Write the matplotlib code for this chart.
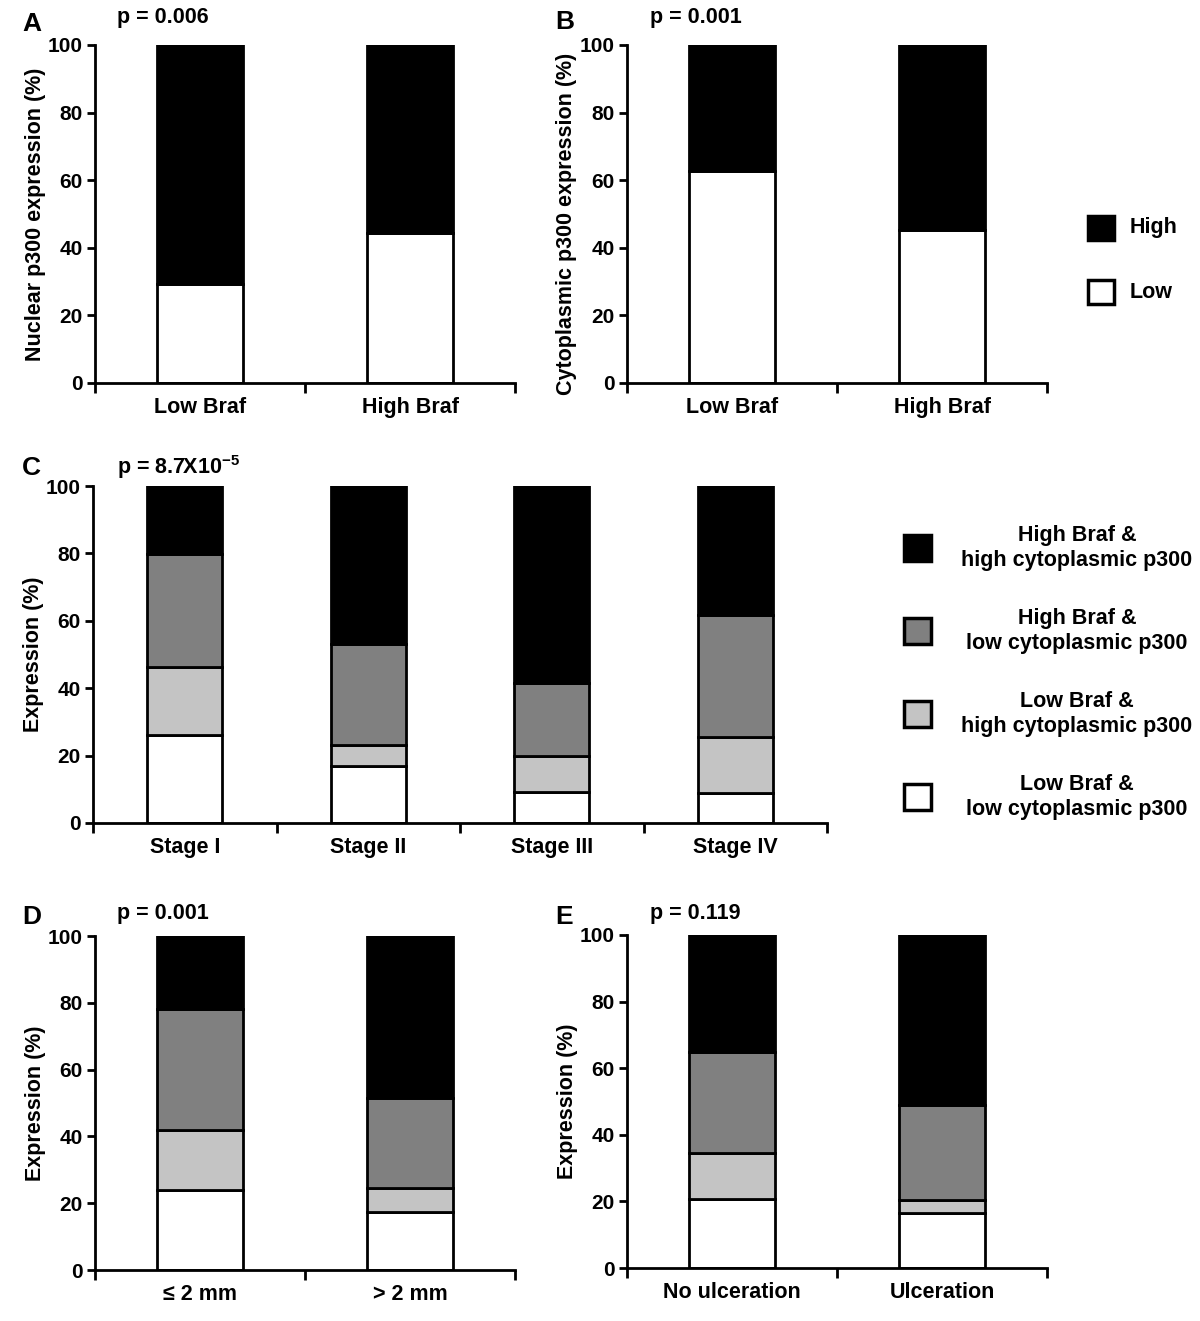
import matplotlib
matplotlib.use("Agg")
import matplotlib.pyplot as plt
from matplotlib.patches import Rectangle
import numpy as np

plt.rcParams['font.family'] = ['Liberation Sans', 'DejaVu Sans']
plt.rcParams['font.weight'] = 'bold'
plt.rcParams['mathtext.fontset'] = 'custom'
plt.rcParams['mathtext.bf'] = 'Liberation Sans:bold'
plt.rcParams['mathtext.rm'] = 'Liberation Sans:bold'
plt.rcParams['mathtext.default'] = 'bf'

# data (percent, stacked bottom -> top)
braf_groups = ["Low Braf", "High Braf"]
nuclear_low = [29.3, 44.4]
nuclear_high = [70.7, 55.6]
cyto_low = [62.7, 45.3]
cyto_high = [37.3, 54.7]

stages = ["Stage I", "Stage II", "Stage III", "Stage IV"]
stage_lowbraf_lowcyto = [26.1, 17.0, 9.3, 9.0]
stage_lowbraf_highcyto = [20.2, 6.0, 10.7, 16.5]
stage_highbraf_lowcyto = [33.4, 30.0, 21.5, 36.2]
stage_highbraf_highcyto = [20.3, 47.0, 58.5, 38.3]

thick_groups = ["\u2264 2 mm", "> 2 mm"]
thick_lowbraf_lowcyto = [24.0, 17.5]
thick_lowbraf_highcyto = [18.0, 7.0]
thick_highbraf_lowcyto = [36.0, 27.0]
thick_highbraf_highcyto = [22.0, 48.5]

ulc_groups = ["No ulceration", "Ulceration"]
ulc_lowbraf_lowcyto = [20.7, 16.5]
ulc_lowbraf_highcyto = [13.8, 4.0]
ulc_highbraf_lowcyto = [30.5, 28.5]
ulc_highbraf_highcyto = [35.0, 51.0]

two_labels = ["High", "Low"]
four_labels = ["High Braf &\nhigh cytoplasmic p300",
               "High Braf &\nlow cytoplasmic p300",
               "Low Braf &\nhigh cytoplasmic p300",
               "Low Braf &\nlow cytoplasmic p300"]
four_colors = ["#000000", "#808080", "#c4c4c4", "#ffffff"]

W, H = 1200, 1321
fig = plt.figure(figsize=(W / 100, H / 100), dpi=100)


def px_axes(left, top, right, bottom):
    return fig.add_axes([left / W, 1 - bottom / H, (right - left) / W, (bottom - top) / H])


def stacked(ax, cats, layers, colors, ylabel, width=0.41):
    x = np.arange(len(cats))
    bottom = np.zeros(len(cats))
    for vals, c in zip(layers, colors):
        ax.bar(x, vals, width, bottom=bottom, color=c, edgecolor='black', linewidth=2, zorder=2)
        bottom = bottom + np.array(vals)
    ax.set_xlim(-0.5, len(cats) - 0.5)
    ax.set_ylim(0, 100)
    ax.set_yticks(np.arange(0, 101, 20))
    ax.set_xticks(np.arange(len(cats) + 1) - 0.5)
    ax.set_xticklabels([])
    ax.set_xticks(x, minor=True)
    ax.set_xticklabels(cats, minor=True, fontsize=15.5, fontweight='bold')
    ax.tick_params(axis='x', which='minor', length=0, pad=10)
    ax.tick_params(axis='x', which='major', length=7, width=2)
    ax.tick_params(axis='y', length=6, width=2, labelsize=15, pad=3)
    for lbl in ax.get_yticklabels():
        lbl.set_fontweight('bold')
    for s in ['top', 'right']:
        ax.spines[s].set_visible(False)
    for s in ['left', 'bottom']:
        ax.spines[s].set_linewidth(2)
    ax.set_ylabel(ylabel, fontsize=15.5, fontweight='bold', labelpad=1)


axA = px_axes(95, 45, 515, 383)
stacked(axA, braf_groups, [nuclear_low, nuclear_high], ["#ffffff", "#000000"],
        "Nuclear p300 expression (%)")
axB = px_axes(627, 45, 1047, 383)
stacked(axB, braf_groups, [cyto_low, cyto_high], ["#ffffff", "#000000"],
        "Cytoplasmic p300 expression (%)")
axB.yaxis.set_label_coords(-0.12, 0.47)
axC = px_axes(93, 486, 827, 823)
stacked(axC, stages, [stage_lowbraf_lowcyto, stage_lowbraf_highcyto,
                      stage_highbraf_lowcyto, stage_highbraf_highcyto],
        four_colors[::-1], "Expression (%)")
axD = px_axes(95, 936, 515, 1270)
stacked(axD, thick_groups, [thick_lowbraf_lowcyto, thick_lowbraf_highcyto,
                            thick_highbraf_lowcyto, thick_highbraf_highcyto],
        four_colors[::-1], "Expression (%)")
axE = px_axes(627, 935, 1047, 1268)
stacked(axE, ulc_groups, [ulc_lowbraf_lowcyto, ulc_lowbraf_highcyto,
                          ulc_highbraf_lowcyto, ulc_highbraf_highcyto],
        four_colors[::-1], "Expression (%)")

# panel letters and p-values
for letter, x, y in [("A", 22, 24), ("B", 555, 22), ("C", 22, 468), ("D", 22, 917), ("E", 555, 917)]:
    fig.text(x / W, 1 - y / H, letter, fontsize=19, fontweight='bold', va='center', ha='left')
for ptxt, x, y in [("p = 0.006", 117, 17), ("p = 0.001", 650, 17),
                   ("p = 8.7X10$^{-5}$", 117, 467), ("p = 0.001", 117, 913),
                   ("p = 0.119", 650, 913)]:
    fig.text(x / W, 1 - y / H, ptxt, fontsize=15.5, fontweight='bold', va='center', ha='left')

# legend for A/B
for i, (lab, col) in enumerate(zip(two_labels, ["#000000", "#ffffff"])):
    yc = 228 + i * 64
    fig.add_artist(Rectangle(((1088) / W, 1 - (yc + 12) / H), 26 / W, 24 / H,
                             facecolor=col, edgecolor='black', linewidth=2.5,
                             transform=fig.transFigure))
    fig.text(1130 / W, 1 - yc / H, lab, fontsize=15.5, fontweight='bold', va='center', ha='left')

# legend for C/D/E
for i, (lab, col) in enumerate(zip(four_labels, four_colors)):
    yc = 548 + i * 83
    fig.add_artist(Rectangle((904 / W, 1 - (yc + 13) / H), 27 / W, 26 / H,
                             facecolor=col, edgecolor='black', linewidth=2.5,
                             transform=fig.transFigure))
    fig.text(1077 / W, 1 - yc / H, lab, fontsize=15.5, fontweight='bold',
             va='center', ha='center', linespacing=1.3)

fig.savefig("out.png", dpi=100)
